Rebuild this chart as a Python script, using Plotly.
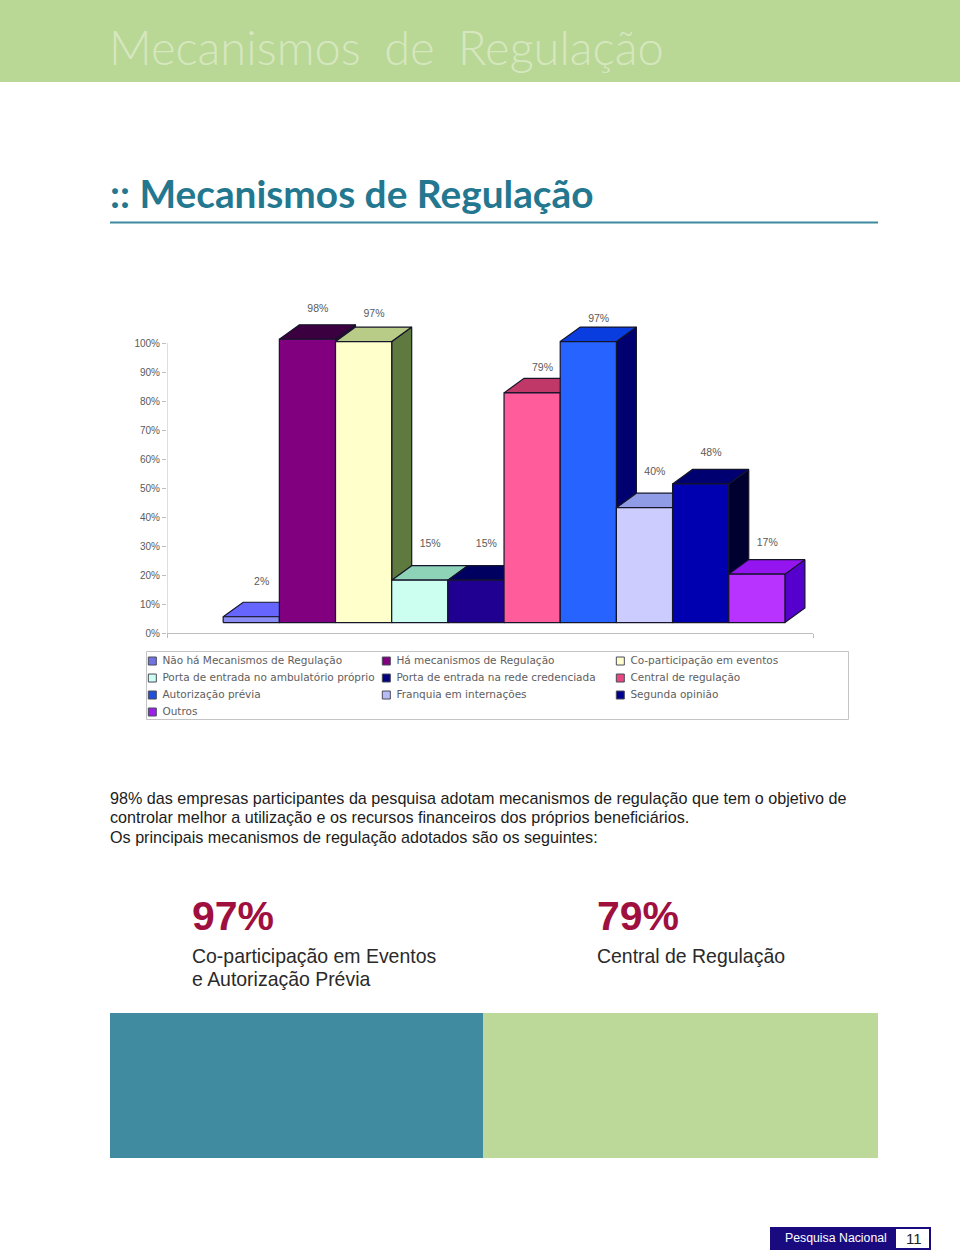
import plotly.graph_objects as go

# chart data
series = ["Não há Mecanismos de Regulação", "Há mecanismos de Regulação", "Co-participação em eventos",
          "Porta de entrada no ambulatório próprio", "Porta de entrada na rede credenciada", "Central de regulação",
          "Autorização prévia", "Franquia em internações", "Segunda opinião", "Outros"]
values = [2, 97.7, 96.9, 14.6, 14.6, 79.2, 96.9, 39.6, 47.8, 16.7]
y_ticks = [0, 10, 20, 30, 40, 50, 60, 70, 80, 90, 100]

front_colors = ["#8a8df2", "#800080", "#ffffcc", "#ccfff0", "#200090", "#ff5c9c", "#2764ff", "#ccccff", "#0000b0", "#b833ff"]
top_colors = ["#6666ff", "#3a0040", "#b8cc88", "#8ed2b8", "#000060", "#c03868", "#0a3de0", "#909ce6", "#000070", "#9515f0"]
side_colors = ["#333399", "#3a0040", "#5f7a3f", "#4f9a80", "#000040", "#802040", "#000070", "#5060a0", "#000030", "#5500cc"]
legend_swatch = ["#6f74e0", "#800080", "#ffffcc", "#ccfff0", "#000080", "#e8487f", "#1f50d8", "#b8bcf5", "#000090", "#9a22e8"]

# how far each label sits above its bar (the source chart is not regular), in y units
label_lift = [11.7, 10.4, 9.4, 12.2, 12.2, 8.4, 7.7, 12.2, 10.4, 10.7]

# oblique depth of the fake 3d bars
DEPTH_X = 0.356
DEPTH_Y = 5.0
BASE = 3.6
BAR_W = 1.0

W, H = 960, 1252
TEAL = "#23778f"
INK = "#1c1c1c"


def px(x):
    return x / W


def py(y):
    return 1 - y / H


def rect(x0, y0, x1, y1, fill, line=None, width=1):
    return dict(type="rect", xref="paper", yref="paper", x0=px(x0), x1=px(x1), y0=py(y0), y1=py(y1),
                fillcolor=fill, line=dict(color=line or fill, width=width if line else 0), layer="below")


def text(x, y, s, size, color, family="Liberation Sans", anchor="left", weight=None):
    font = dict(family=family, size=size, color=color)
    if weight:
        font["weight"] = weight
    return dict(x=px(x), y=py(y), xref="paper", yref="paper", text=s, showarrow=False, xanchor=anchor,
                yanchor="middle", font=font, borderpad=0)


def face(fig, xs, ys, color):
    fig.add_trace(go.Scatter(x=xs, y=ys, mode="lines", fill="toself", fillcolor=color,
                             line=dict(color="#14142a", width=1.2), hoverinfo="skip", showlegend=False))


fig = go.Figure()

# painted left to right so each bar hides the side of the previous one
for i, v in enumerate(values):
    x0, x1 = i - BAR_W / 2, i + BAR_W / 2
    top = BASE + v
    face(fig, [x1, x1 + DEPTH_X, x1 + DEPTH_X, x1, x1], [BASE, BASE + DEPTH_Y, top + DEPTH_Y, top, BASE], side_colors[i])
    face(fig, [x0, x0 + DEPTH_X, x1 + DEPTH_X, x1, x0], [top, top + DEPTH_Y, top + DEPTH_Y, top, top], top_colors[i])
    face(fig, [x0, x1, x1, x0, x0], [BASE, BASE, top, top, BASE], front_colors[i])

fig.add_trace(go.Scatter(
    x=[i + 0.185 for i in range(len(values))],
    y=[BASE + v + lift for v, lift in zip(values, label_lift)],
    mode="text", text=[f"{round(v)}%" for v in values], textposition="middle center",
    textfont=dict(family="Liberation Sans", size=10.5, color="#5a5a5a"), hoverinfo="skip", showlegend=False))

# y axis line stops at 100 while the plot area carries on above it
fig.add_trace(go.Scatter(x=[-1.5, -1.5], y=[0, 100], mode="lines", line=dict(color="#bdbdbd", width=1),
                         hoverinfo="skip", showlegend=False))

# legend, three columns filled row by row
cols = [i % 3 for i in range(len(series))]
rows = [i // 3 for i in range(len(series))]
fig.add_trace(go.Scatter(
    x=[c + 0.027 for c in cols], y=rows, xaxis="x2", yaxis="y2", mode="markers",
    marker=dict(symbol="square", size=8, color=legend_swatch, line=dict(color="#4a4a5a", width=1)),
    hoverinfo="skip", showlegend=False))
fig.add_trace(go.Scatter(
    x=[c + 0.07 for c in cols], y=rows, xaxis="x2", yaxis="y2", mode="text", text=series,
    textposition="middle right", textfont=dict(family="DejaVu Sans", size=10.5, color="#5e5e5e"),
    hoverinfo="skip", showlegend=False))

shapes = [
    rect(0, 0, 960, 82, "#b9d795"),
    rect(110, 221.5, 878, 223.5, "#3f8a9f"),
    rect(146.5, 651.5, 848.5, 719.5, "#ffffff", "#c4c4c4", 1),
    rect(110, 1013, 483, 1158, "#408ba0"),
    rect(483, 1013, 878, 1158, "#bcd99a"),
    rect(770, 1227, 931, 1250, "#1a0a80"),
    rect(896, 1229, 929, 1248, "#ffffff"),
]

annotations = [
    text(108, 47, "Mecanismos\u2002de\u2002Regulação", 47, "#d6e7c0", family="Lato", weight=300),
    text(109, 193, ":: Mecanismos de Regulação", 38.8, TEAL, family="Lato", weight=700),
    text(109, 798, "98% das empresas participantes da pesquisa adotam mecanismos de regulação que tem o objetivo de", 16.17, INK),
    text(109, 817, "controlar melhor a utilização e os recursos financeiros dos próprios beneficiários.", 16.17, INK),
    text(109, 837, "Os principais mecanismos de regulação adotados são os seguintes:", 16.17, INK),
    text(191, 916, "97%", 41, "#a0103f", weight=700),
    text(596, 916, "79%", 41, "#a0103f", weight=700),
    text(191, 956, "Co-participação em Eventos", 19.45, "#2a2a2a"),
    text(191, 979, "e Autorização Prévia", 19.45, "#2a2a2a"),
    text(596, 956, "Central de Regulação", 19.45, "#2a2a2a"),
    text(784, 1238, "Pesquisa Nacional", 12.3, "#ffffff"),
    text(914, 1238, "11", 15, "#222222", anchor="center"),
]

y_top = 633 - 2.9 * 120
fig.update_layout(
    width=W, height=H, margin=dict(l=0, r=0, t=0, b=0, autoexpand=False), paper_bgcolor="#ffffff", plot_bgcolor="rgba(0,0,0,0)",
    showlegend=False, shapes=shapes, annotations=annotations,
    xaxis=dict(domain=[px(167), px(813)], range=[-1.5, 10], tickvals=[-1.5, 10], ticktext=["", ""], ticks="outside",
               ticklen=4, tickcolor="#bdbdbd", showline=True, linecolor="#bdbdbd", showgrid=False, zeroline=False),
    yaxis=dict(domain=[py(633), py(y_top)], range=[0, 120], tickvals=y_ticks, ticktext=[f"{t}%" for t in y_ticks],
               ticks="outside", ticklen=4, tickcolor="#bdbdbd", showline=False, showgrid=False, zeroline=False,
               tickfont=dict(family="Liberation Sans", size=10, color="#5a5a5a")),
    xaxis2=dict(domain=[px(146), px(848)], range=[0, 3], visible=False, anchor="y2"),
    yaxis2=dict(domain=[py(720), py(651)], range=[3.47, -0.59], visible=False, anchor="x2"),
)

fig.write_html("out.html", config=dict(displayModeBar=False), post_script="document.body.style.margin='0';")
